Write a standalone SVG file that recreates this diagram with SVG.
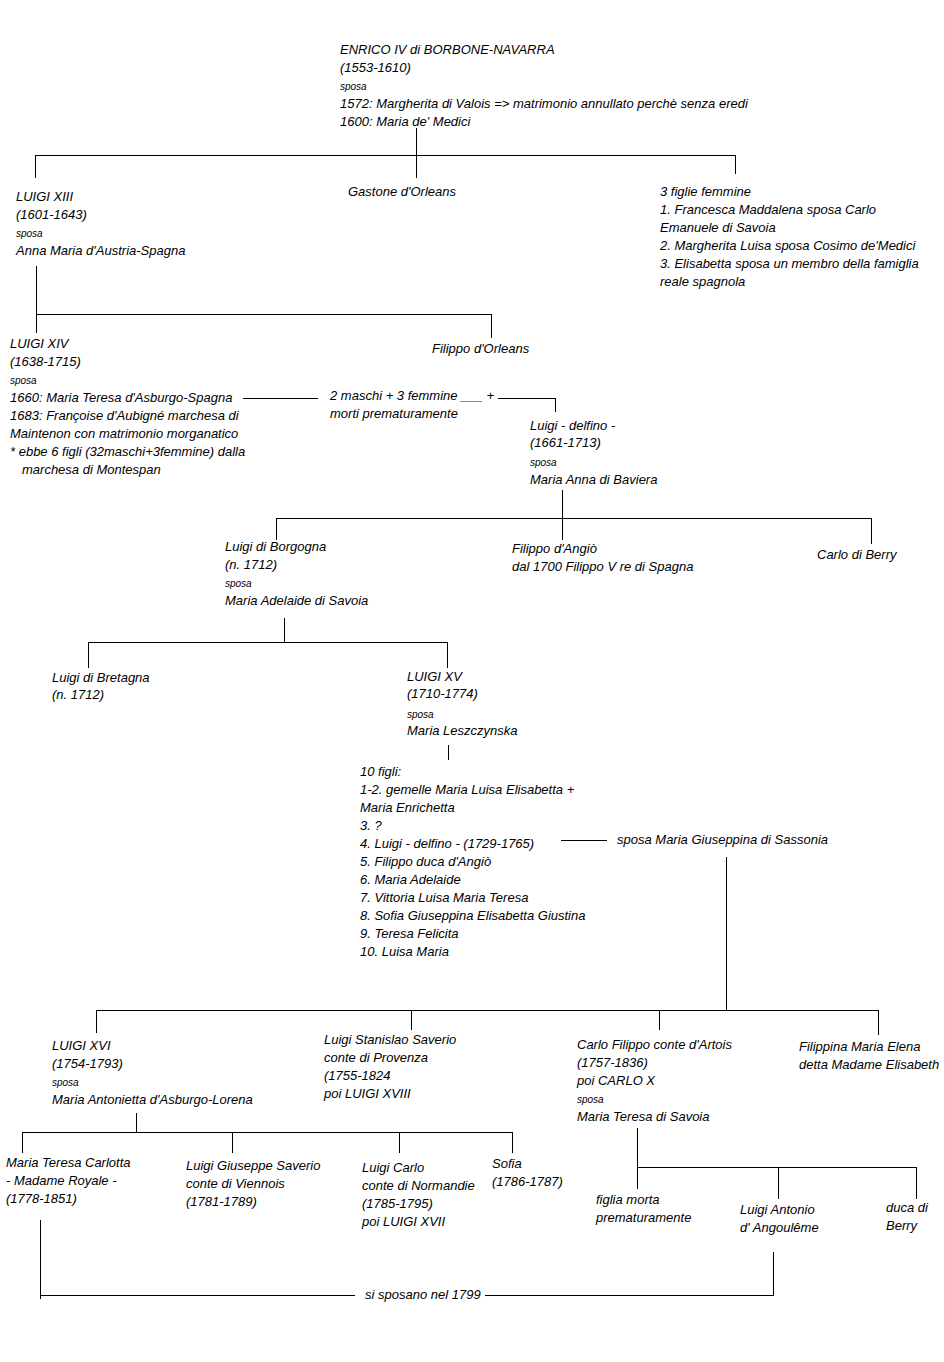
<svg xmlns="http://www.w3.org/2000/svg" width="944" height="1362" viewBox="0 0 944 1362">
<style>
.t{font-family:"Liberation Sans",Arial,sans-serif;font-style:italic;font-size:13px;fill:#000}
.s{font-size:10px}
.c line{stroke:#000;stroke-width:1;shape-rendering:crispEdges}
</style>
<rect width="944" height="1362" fill="#fff"/>
<g class="c" id="connectors">
<line x1="416.5" y1="128" x2="416.5" y2="155.5"/>
<line x1="35" y1="155.5" x2="736" y2="155.5"/>
<line x1="35.5" y1="155" x2="35.5" y2="178"/>
<line x1="416.5" y1="155" x2="416.5" y2="178"/>
<line x1="735.5" y1="155" x2="735.5" y2="174"/>
<line x1="36.5" y1="266" x2="36.5" y2="333"/>
<line x1="36" y1="314.5" x2="492" y2="314.5"/>
<line x1="491.5" y1="314" x2="491.5" y2="338"/>
<line x1="243" y1="398.5" x2="318" y2="398.5"/>
<line x1="498" y1="398.5" x2="555" y2="398.5"/>
<line x1="555.5" y1="398" x2="555.5" y2="412"/>
<line x1="562.5" y1="490" x2="562.5" y2="540"/>
<line x1="276" y1="518.5" x2="872" y2="518.5"/>
<line x1="276.5" y1="518" x2="276.5" y2="540"/>
<line x1="871.5" y1="518" x2="871.5" y2="544"/>
<line x1="284.5" y1="618" x2="284.5" y2="643"/>
<line x1="88" y1="642.5" x2="448" y2="642.5"/>
<line x1="88.5" y1="642" x2="88.5" y2="668"/>
<line x1="447.5" y1="642" x2="447.5" y2="668"/>
<line x1="448.5" y1="745" x2="448.5" y2="760"/>
<line x1="561" y1="840.5" x2="607" y2="840.5"/>
<line x1="726.5" y1="857" x2="726.5" y2="1011"/>
<line x1="96" y1="1010.5" x2="878" y2="1010.5"/>
<line x1="96.5" y1="1010" x2="96.5" y2="1033"/>
<line x1="411.5" y1="1010" x2="411.5" y2="1030"/>
<line x1="659.5" y1="1010" x2="659.5" y2="1030"/>
<line x1="878.5" y1="1010" x2="878.5" y2="1035"/>
<line x1="136.5" y1="1113" x2="136.5" y2="1133"/>
<line x1="22" y1="1132.5" x2="512" y2="1132.5"/>
<line x1="22.5" y1="1132" x2="22.5" y2="1153"/>
<line x1="232.5" y1="1132" x2="232.5" y2="1153"/>
<line x1="399.5" y1="1132" x2="399.5" y2="1153"/>
<line x1="512.5" y1="1132" x2="512.5" y2="1153"/>
<line x1="637.5" y1="1128" x2="637.5" y2="1189"/>
<line x1="637" y1="1167.5" x2="917" y2="1167.5"/>
<line x1="778.5" y1="1167" x2="778.5" y2="1199"/>
<line x1="916.5" y1="1167" x2="916.5" y2="1199"/>
<line x1="40.5" y1="1220" x2="40.5" y2="1299"/>
<line x1="40" y1="1295.5" x2="355" y2="1295.5"/>
<line x1="485" y1="1295.5" x2="774" y2="1295.5"/>
<line x1="773.5" y1="1252" x2="773.5" y2="1296"/>
</g>
<g id="enrico"><text class="t" x="340"><tspan x="340" y="54">ENRICO IV di BORBONE-NAVARRA</tspan><tspan x="340" y="72">(1553-1610)</tspan><tspan x="340" y="90" class="s">sposa</tspan><tspan x="340" y="108">1572: Margherita di Valois =&gt; matrimonio annullato perchè senza eredi</tspan><tspan x="340" y="126">1600: Maria de' Medici</tspan></text></g>
<g id="luigi13"><text class="t"><tspan x="16" y="201">LUIGI XIII</tspan><tspan x="16" y="219">(1601-1643)</tspan><tspan x="16" y="237" class="s">sposa</tspan><tspan x="16" y="255">Anna Maria d'Austria-Spagna</tspan></text></g>
<g id="gastone"><text class="t" x="348" y="196">Gastone d'Orleans</text></g>
<g id="figlie"><text class="t"><tspan x="660" y="196">3 figlie femmine</tspan><tspan x="660" y="214">1. Francesca Maddalena sposa Carlo</tspan><tspan x="660" y="232">Emanuele di Savoia</tspan><tspan x="660" y="250">2. Margherita Luisa sposa Cosimo de'Medici</tspan><tspan x="660" y="268">3. Elisabetta sposa un membro della famiglia</tspan><tspan x="660" y="286">reale spagnola</tspan></text></g>
<g id="luigi14"><text class="t"><tspan x="10" y="348">LUIGI XIV</tspan><tspan x="10" y="366">(1638-1715)</tspan><tspan x="10" y="384" class="s">sposa</tspan><tspan x="10" y="402">1660: Maria Teresa d'Asburgo-Spagna</tspan><tspan x="10" y="420">1683: Françoise d'Aubigné marchesa di</tspan><tspan x="10" y="438">Maintenon con matrimonio morganatico</tspan><tspan x="10" y="456">* ebbe 6 figli (32maschi+3femmine) dalla</tspan><tspan x="22" y="474">marchesa di Montespan</tspan></text></g>
<g id="filippo-orleans"><text class="t" x="432" y="353">Filippo d'Orleans</text></g>
<g id="maschi"><text class="t"><tspan x="330" y="400">2 maschi + 3 femmine ___ +</tspan><tspan x="330" y="418">morti prematuramente</tspan></text></g>
<g id="delfino"><text class="t"><tspan x="530" y="430">Luigi - delfino -</tspan><tspan x="530" y="447">(1661-1713)</tspan><tspan x="530" y="466" class="s">sposa</tspan><tspan x="530" y="484">Maria Anna di Baviera</tspan></text></g>
<g id="borgogna"><text class="t"><tspan x="225" y="551">Luigi di Borgogna</tspan><tspan x="225" y="569">(n. 1712)</tspan><tspan x="225" y="587" class="s">sposa</tspan><tspan x="225" y="605">Maria Adelaide di Savoia</tspan></text></g>
<g id="angio"><text class="t"><tspan x="512" y="553">Filippo d'Angiò</tspan><tspan x="512" y="571">dal 1700 Filippo V re di Spagna</tspan></text></g>
<g id="berry1"><text class="t" x="817" y="559">Carlo di Berry</text></g>
<g id="bretagna"><text class="t"><tspan x="52" y="682">Luigi di Bretagna</tspan><tspan x="52" y="699">(n. 1712)</tspan></text></g>
<g id="luigi15"><text class="t"><tspan x="407" y="681">LUIGI XV</tspan><tspan x="407" y="698">(1710-1774)</tspan><tspan x="407" y="718" class="s">sposa</tspan><tspan x="407" y="735">Maria Leszczynska</tspan></text></g>
<g id="figli10"><text class="t"><tspan x="360" y="776">10 figli:</tspan><tspan x="360" y="794">1-2. gemelle Maria Luisa Elisabetta +</tspan><tspan x="360" y="812">Maria Enrichetta</tspan><tspan x="360" y="830">3. ?</tspan><tspan x="360" y="848">4. Luigi - delfino - (1729-1765)</tspan><tspan x="360" y="866">5. Filippo duca d'Angiò</tspan><tspan x="360" y="884">6. Maria Adelaide</tspan><tspan x="360" y="902">7. Vittoria Luisa Maria Teresa</tspan><tspan x="360" y="920">8. Sofia Giuseppina Elisabetta Giustina</tspan><tspan x="360" y="938">9. Teresa Felicita</tspan><tspan x="360" y="956">10. Luisa Maria</tspan></text></g>
<g id="sassonia"><text class="t" x="617" y="844">sposa Maria Giuseppina di Sassonia</text></g>
<g id="luigi16"><text class="t"><tspan x="52" y="1050">LUIGI XVI</tspan><tspan x="52" y="1068">(1754-1793)</tspan><tspan x="52" y="1086" class="s">sposa</tspan><tspan x="52" y="1104">Maria Antonietta d'Asburgo-Lorena</tspan></text></g>
<g id="provenza"><text class="t"><tspan x="324" y="1044">Luigi Stanislao Saverio</tspan><tspan x="324" y="1062">conte di Provenza</tspan><tspan x="324" y="1080">(1755-1824</tspan><tspan x="324" y="1098">poi LUIGI XVIII</tspan></text></g>
<g id="artois"><text class="t"><tspan x="577" y="1049">Carlo Filippo conte d'Artois</tspan><tspan x="577" y="1067">(1757-1836)</tspan><tspan x="577" y="1085">poi CARLO X</tspan><tspan x="577" y="1103" class="s">sposa</tspan><tspan x="577" y="1121">Maria Teresa di Savoia</tspan></text></g>
<g id="elisabeth"><text class="t"><tspan x="799" y="1051">Filippina Maria Elena</tspan><tspan x="799" y="1069">detta Madame Elisabeth</tspan></text></g>
<g id="carlotta"><text class="t"><tspan x="6" y="1167">Maria Teresa Carlotta</tspan><tspan x="6" y="1185">- Madame Royale -</tspan><tspan x="6" y="1203">(1778-1851)</tspan></text></g>
<g id="viennois"><text class="t"><tspan x="186" y="1170">Luigi Giuseppe Saverio</tspan><tspan x="186" y="1188">conte di Viennois</tspan><tspan x="186" y="1206">(1781-1789)</tspan></text></g>
<g id="normandie"><text class="t"><tspan x="362" y="1172">Luigi Carlo</tspan><tspan x="362" y="1190">conte di Normandie</tspan><tspan x="362" y="1208">(1785-1795)</tspan><tspan x="362" y="1226">poi LUIGI XVII</tspan></text></g>
<g id="sofia"><text class="t"><tspan x="492" y="1168">Sofia</tspan><tspan x="492" y="1186">(1786-1787)</tspan></text></g>
<g id="figlia-morta"><text class="t"><tspan x="596" y="1204">figlia morta</tspan><tspan x="596" y="1222">prematuramente</tspan></text></g>
<g id="angouleme"><text class="t"><tspan x="740" y="1214">Luigi Antonio</tspan><tspan x="740" y="1232">d' Angoulême</tspan></text></g>
<g id="berry2"><text class="t"><tspan x="886" y="1212">duca di</tspan><tspan x="886" y="1230">Berry</tspan></text></g>
<g id="sposano"><text class="t" x="365" y="1299">si sposano nel 1799</text></g>
</svg>
